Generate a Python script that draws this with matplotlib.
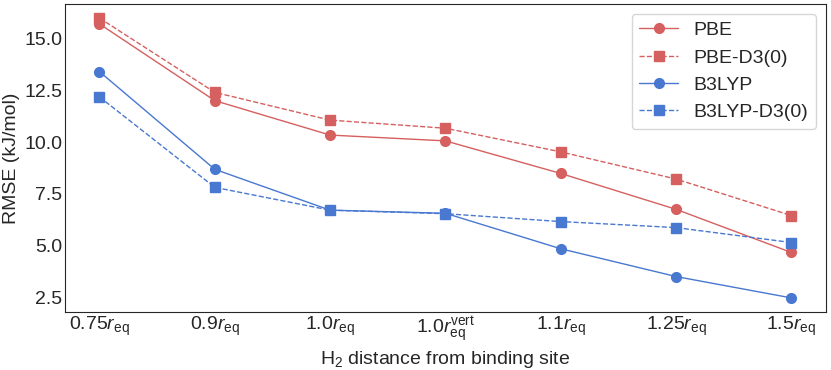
import matplotlib
matplotlib.use('Agg')
import matplotlib.pyplot as plt
import seaborn as sns

sns.set_style('white')
plt.rcParams['font.family'] = ['Liberation Sans', 'DejaVu Sans']
plt.rcParams['mathtext.fontset'] = 'custom'
plt.rcParams['mathtext.rm'] = 'Liberation Sans'
plt.rcParams['mathtext.it'] = 'Liberation Sans:italic'

labels = [r'0.75$r_{\mathrm{eq}}$', r'0.9$r_{\mathrm{eq}}$', r'1.0$r_{\mathrm{eq}}$',
          r'1.0$r_{\mathrm{eq}}^{\mathrm{vert}}$', r'1.1$r_{\mathrm{eq}}$',
          r'1.25$r_{\mathrm{eq}}$', r'1.5$r_{\mathrm{eq}}$']
pbe = [15.7, 12.0, 10.34, 10.06, 8.49, 6.76, 4.68]
pbe_d3 = [15.98, 12.4, 11.06, 10.67, 9.53, 8.22, 6.46]
b3lyp = [13.4, 8.69, 6.72, 6.57, 4.86, 3.52, 2.49]
b3lyp_d3 = [12.18, 7.82, 6.72, 6.55, 6.17, 5.88, 5.16]

red = '#d65f5f'
blue = '#4878d0'
x = range(len(labels))

fig, ax = plt.subplots(figsize=(8.31, 3.70), dpi=100)
ax.plot(x, pbe, '-o', color=red, lw=1, ms=7, label='PBE')
ax.plot(x, pbe_d3, '--s', color=red, lw=1, ms=7, label='PBE-D3(0)')
ax.plot(x, b3lyp, '-o', color=blue, lw=1, ms=7, label='B3LYP')
ax.plot(x, b3lyp_d3, '--s', color=blue, lw=1, ms=7, label='B3LYP-D3(0)')

ax.set_xticks(list(x))
ax.set_xticklabels(labels, fontsize=14)
ax.tick_params(axis='both', labelsize=14, length=0, pad=2)
ax.set_yticks([2.5, 5.0, 7.5, 10.0, 12.5, 15.0])
ax.set_xlabel(r'H$_2$ distance from binding site', fontsize=14, labelpad=3)
ax.set_ylabel('RMSE (kJ/mol)', fontsize=14, labelpad=3)
ax.legend(loc='upper right', fontsize=14)

fig.subplots_adjust(left=0.078, right=0.994, top=0.989, bottom=0.157)
fig.savefig('out.png', dpi=100)
